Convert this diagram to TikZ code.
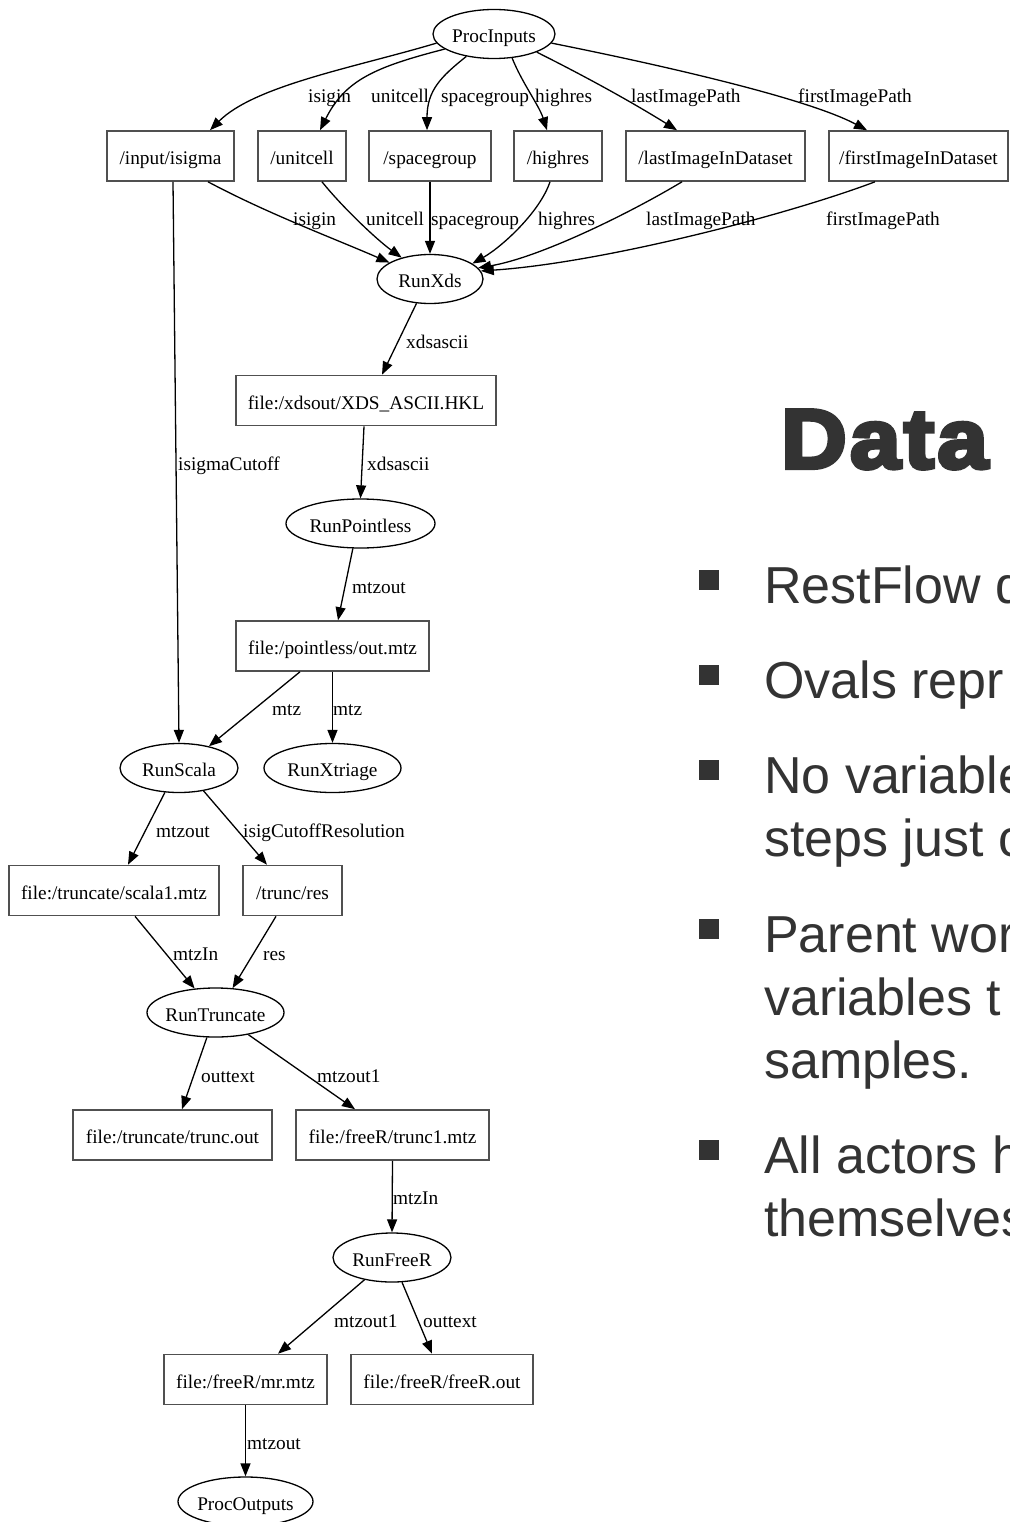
\documentclass[tikz,border=0pt]{standalone}
\usepackage{fontspec}
\setmainfont{Liberation Serif}
\newfontfamily\slidefont{Liberation Sans}
\newfontfamily\titlefont[FakeBold=5,FakeStretch=1.08,LetterSpace=4]{Liberation Sans Bold}
\usetikzlibrary{shapes.geometric,arrows.meta,calc}
\definecolor{slidetext}{HTML}{333333}
\definecolor{boxline}{HTML}{505050}

\begin{document}
\begin{tikzpicture}[x=1pt,y=-1pt,
  font=\fontsize{19.3}{23}\selectfont,
  proc/.style={draw=black, line width=1.3pt, ellipse, minimum height=49pt,
    inner xsep=-20pt, inner ysep=0pt, text height=17pt, text depth=0pt},
  port/.style={draw=boxline, line width=1.6pt, rectangle, minimum height=50pt,
    inner sep=0pt, text height=17.5pt, text depth=0pt},
  flow/.style={line width=1.3pt, -{Triangle[length=13pt,width=10pt]}},
  elab/.style={anchor=base west, inner sep=0pt},
  bullettext/.style={anchor=base west, inner sep=0pt, text=slidetext,
    font=\slidefont\fontsize{52}{63}\selectfont},
  bulletmark/.style={fill=slidetext}]

\useasboundingbox (0,0) rectangle (1009,1522);
\fill[white] (0,0) rectangle (1009,1522);

\begin{scope}
\clip (0,0) rectangle (1009,1522);

% ---------- workflow nodes ----------
\node[proc, minimum width=122pt] (procin) at (494,34) {ProcInputs};
\node[port, minimum width=127pt] (isigma) at (170.5,156) {/input/isigma};
\node[port, minimum width=88pt] (unitcell) at (302,156) {/unitcell};
\node[port, minimum width=122pt] (spacegroup) at (430,156) {/spacegroup};
\node[port, minimum width=88pt] (highres) at (558,156) {/highres};
\node[port, minimum width=179pt] (lastimg) at (715.5,156) {/lastImageInDataset};
\node[port, minimum width=179pt] (firstimg) at (918.5,156) {/firstImageInDataset};
\node[proc, minimum width=106pt] (runxds) at (430,279) {RunXds};
\node[port, minimum width=260pt] (xdsfile) at (366,400.5) {file:/xdsout/XDS\_ASCII.HKL};
\node[proc, minimum width=149pt] (pointless) at (360.5,523.5) {RunPointless};
\node[port, minimum width=193pt] (ptlfile) at (332.5,646) {file:/pointless/out.mtz};
\node[proc, minimum width=118pt] (scala) at (179,768) {RunScala};
\node[proc, minimum width=137pt] (xtriage) at (332.5,768) {RunXtriage};
\node[port, minimum width=210pt] (scalafile) at (114,890.5) {file:/truncate/scala1.mtz};
\node[port, minimum width=99pt] (truncres) at (292.5,890.5) {/trunc/res};
\node[proc, minimum width=137pt] (truncate) at (215.5,1012.5) {RunTruncate};
\node[port, minimum width=199pt] (truncout) at (172.5,1135) {file:/truncate/trunc.out};
\node[port, minimum width=193pt] (trunc1) at (392.5,1135) {file:/freeR/trunc1.mtz};
\node[proc, minimum width=118pt] (freer) at (392,1257.5) {RunFreeR};
\node[port, minimum width=163pt] (mrfile) at (245.5,1379.5) {file:/freeR/mr.mtz};
\node[port, minimum width=182pt] (freerout) at (442,1379.5) {file:/freeR/freeR.out};
\node[proc, minimum width=135pt] (procout) at (245.5,1501.5) {ProcOutputs};

% ---------- ProcInputs fan-out ----------
\draw[flow] (procin.189) .. controls +(-80,24) and +(45,-45) .. ($(isigma.north)+(39.5,0)$);
\draw[flow] (procin.197) .. controls +(-70,18) and +(25,-50) .. ($(unitcell.north)+(18,0)$);
\draw[flow] (procin.219) .. controls +(-25,20) and +(0,-40) .. ($(spacegroup.north)+(-3,0)$);
\draw[flow] (procin.307) .. controls +(10,25) and +(-8,-25) .. ($(highres.north)+(-11,0)$);
\draw[flow] (procin.337) .. controls +(50,25) and +(-45,-28) .. ($(lastimg.north)+(-38.5,0)$);
\draw[flow] (procin.351) .. controls +(110,22) and +(-60,-32) .. ($(firstimg.north)+(-51.5,0)$);

% ---------- inputs into RunXds ----------
\draw[flow] ($(isigma.south)+(37.5,0)$) .. controls +(60,32) and +(-55,-24) .. (runxds.158);
\draw[flow] ($(unitcell.south)+(20,0)$) .. controls +(20,25) and +(-25,-18) .. (runxds.143);
\draw[flow] (spacegroup.south) -- (runxds.north);
\draw[flow] ($(highres.south)+(-8,0)$) .. controls +(-10,30) and +(30,-17) .. (runxds.20);
\draw[flow] ($(lastimg.south)+(-33.5,0)$) .. controls +(-55,33) and +(60,-10) .. (runxds.13);
\draw[flow] ($(firstimg.south)+(-43.5,0)$) .. controls +(-90,34) and +(120,-8) .. (runxds.9);

% ---------- processing chain ----------
\draw[flow] (runxds.241) -- ($(xdsfile.north)+(16,0)$);
\draw[flow] ($(xdsfile.south)+(-2,0)$) -- (pointless.north);
\draw[flow] (pointless.253) -- ($(ptlfile.north)+(5.5,0)$);
\draw[flow] ($(ptlfile.south)+(-32.5,0)$) -- (scala.36);
\draw[flow] (ptlfile.south) -- (xtriage.north);
\draw[flow] ($(isigma.south)+(2.5,0)$) -- (scala.north);
\draw[flow] (scala.240) -- ($(scalafile.north)+(14,0)$);
\draw[flow] (scala.317) -- ($(truncres.north)+(-25.5,0)$);
\draw[flow] ($(scalafile.south)+(21,0)$) -- (truncate.131);
\draw[flow] ($(truncres.south)+(-16.5,0)$) -- (truncate.55);
\draw[flow] (truncate.251) -- ($(truncout.north)+(9.5,0)$);
\draw[flow] (truncate.326) -- ($(trunc1.north)+(-37.5,0)$);
\draw[flow] (trunc1.south) -- (freer.north);
\draw[flow] (freer.219) -- ($(mrfile.north)+(32.5,0)$);
\draw[flow] (freer.292) -- ($(freerout.north)+(-10,0)$);
\draw[flow] (mrfile.south) -- (procout.north);

% ---------- edge labels ----------
\node[elab] (l1) at (308,103) {isigin};
\node[elab] (l2) at (371,103) {unitcell};
\node[elab] (l3) at (441,103) {spacegroup};
\node[elab] (l4) at (535,103) {highres};
\node[elab] (l5) at (631,103) {lastImagePath};
\node[elab] (l6) at (798,103) {firstImagePath};
\node[elab] (l7) at (293,226) {isigin};
\node[elab] (l8) at (366,226) {unitcell};
\node[elab] (l9) at (431,226) {spacegroup};
\node[elab] (l10) at (538,226) {highres};
\node[elab] (l11) at (646,226) {lastImagePath};
\node[elab] (l12) at (826,226) {firstImagePath};
\node[elab] (l13) at (406,348) {xdsascii};
\node[elab] (l14) at (178,470) {isigmaCutoff};
\node[elab] (l15) at (367,470) {xdsascii};
\node[elab] (l16) at (352,593) {mtzout};
\node[elab] (l17) at (272,715) {mtz};
\node[elab] (l18) at (333,715) {mtz};
\node[elab] (l19) at (156,837) {mtzout};
\node[elab] (l20) at (243,837) {isigCutoffResolution};
\node[elab] (l21) at (173,960) {mtzIn};
\node[elab] (l22) at (263,960) {res};
\node[elab] (l23) at (201,1082) {outtext};
\node[elab] (l24) at (317,1082) {mtzout1};
\node[elab] (l25) at (393,1204) {mtzIn};
\node[elab] (l26) at (334,1327) {mtzout1};
\node[elab] (l27) at (423,1327) {outtext};
\node[elab] (l28) at (247,1449) {mtzout};

% ---------- slide text ----------
\node[anchor=base west, inner sep=0pt, text=slidetext,
  font=\titlefont\fontsize{84}{90}\selectfont] (title) at (781,468) {Data};

\fill[bulletmark] (699,570) rectangle (719,590);
\fill[bulletmark] (699,665) rectangle (719,685);
\fill[bulletmark] (699,760) rectangle (719,780);
\fill[bulletmark] (699,919) rectangle (719,939);
\fill[bulletmark] (699,1140) rectangle (719,1160);

\node[bullettext] (t1) at (764,603) {RestFlow d};
\node[bullettext] (t2) at (764,698) {Ovals repr};
\node[bullettext] (t3) at (764,793) {No variable};
\node[bullettext] (t4) at (764,856) {steps just c};
\node[bullettext] (t5) at (764,952) {Parent wor};
\node[bullettext] (t6) at (764,1015) {variables t};
\node[bullettext] (t7) at (764,1078) {samples.};
\node[bullettext] (t8) at (764,1173) {All actors h};
\node[bullettext] (t9) at (764,1236) {themselves};
\end{scope}
\end{tikzpicture}
\end{document}
